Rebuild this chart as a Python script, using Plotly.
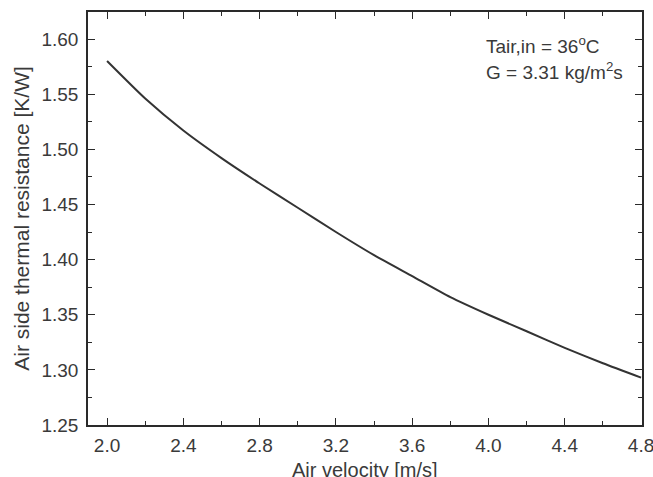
import plotly.graph_objects as go

velocity = [2.0, 2.2, 2.4, 2.6, 2.8, 3.0, 3.2, 3.4, 3.6, 3.8, 4.0, 4.2, 4.4, 4.6, 4.8]
resistance = [1.580, 1.546, 1.517, 1.492, 1.469, 1.447, 1.425, 1.404, 1.385, 1.366, 1.350, 1.335, 1.320, 1.306, 1.293]

x_ticks = [2.0, 2.4, 2.8, 3.2, 3.6, 4.0, 4.4, 4.8]
x_tick_labels = ["2.0", "2.4", "2.8", "3.2", "3.6", "4.0", "4.4", "4.8"]
y_ticks = [1.25, 1.30, 1.35, 1.40, 1.45, 1.50, 1.55, 1.60]
y_tick_labels = ["1.25", "1.30", "1.35", "1.40", "1.45", "1.50", "1.55", "1.60"]

FONT = "Arial, Liberation Sans, sans-serif"
AX = "#2a2a2a"
TXT = "#3a3a3a"

fig = go.Figure()
fig.add_trace(go.Scatter(x=velocity, y=resistance, mode="lines",
                         line=dict(color="#333333", width=2, shape="spline", smoothing=0.6),
                         showlegend=False, hoverinfo="skip"))

axis_common = dict(showline=True, linecolor=AX, linewidth=1.6, mirror="allticks",
                   ticks="inside", ticklen=7, tickwidth=1.4, tickcolor=AX,
                   showgrid=False, zeroline=False, ticklabeloverflow="allow",
                   tickfont=dict(family=FONT, size=19, color=TXT))

fig.update_xaxes(range=[1.9, 4.805], tickvals=x_ticks, ticktext=x_tick_labels,
                 minor=dict(dtick=0.2, tick0=2.0, ticks="inside", ticklen=4, tickwidth=1.2, tickcolor=AX, showgrid=False),
                 ticklabelstandoff=2, automargin=False, **axis_common)
fig.update_yaxes(range=[1.25, 1.6245], tickvals=y_ticks, ticktext=y_tick_labels,
                 minor=dict(dtick=0.025, tick0=1.25, ticks="inside", ticklen=4, tickwidth=1.2, tickcolor=AX, showgrid=False),
                 title=dict(text="Air side thermal resistance [K/W]", font=dict(family=FONT, size=21, color=TXT), standoff=6),
                 ticklabelstandoff=4, automargin=False, **axis_common)

# x-axis title (bottom slightly cut off at the page edge, as in the reference)
fig.add_annotation(x=0.5, y=-0.078, xref="paper", yref="paper", xanchor="center", yanchor="top",
                   text="Air velocity [m/s]", showarrow=False,
                   font=dict(family=FONT, size=20, color=TXT))

fig.add_annotation(x=0.714, y=0.921, xref="paper", yref="paper", xanchor="left", yanchor="middle",
                   text="Tair,in = 36<sup>o</sup>C", showarrow=False,
                   font=dict(family=FONT, size=19, color=TXT))
fig.add_annotation(x=0.714, y=0.856, xref="paper", yref="paper", xanchor="left", yanchor="middle",
                   text="G = 3.31 kg/m<sup>2</sup>s", showarrow=False,
                   font=dict(family=FONT, size=19, color=TXT))

fig.update_layout(width=653, height=477, margin=dict(l=88, r=11, t=12, b=52),
                  paper_bgcolor="white", plot_bgcolor="white")

fig.write_html("out.html")
